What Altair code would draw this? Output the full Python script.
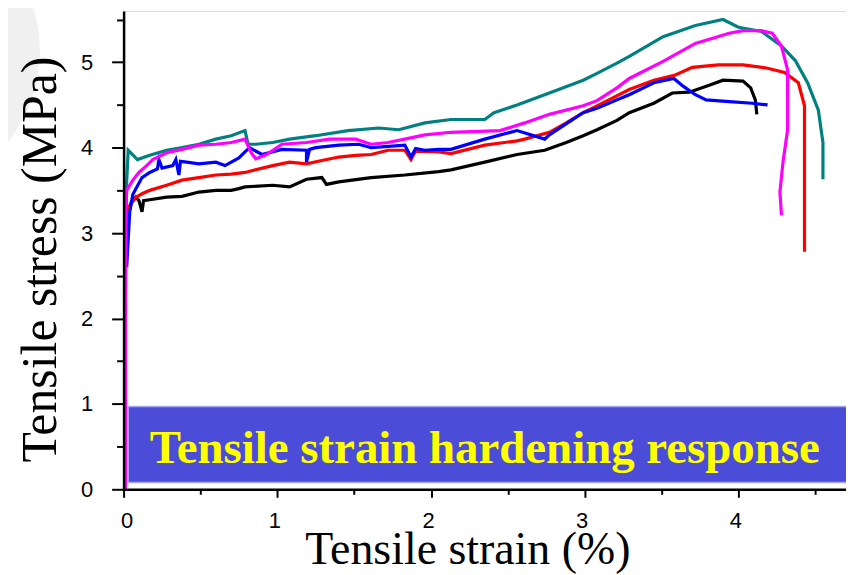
import altair as alt
import pandas as pd

# ---- data (strain %, stress MPa) ----
teal_x = [0.01, 0.02, 0.03, 0.09, 0.17, 0.28, 0.38, 0.49, 0.60, 0.70, 0.79, 0.81, 0.86, 0.97, 1.08, 1.25, 1.46, 1.66, 1.79, 1.96, 2.13, 2.35, 2.41, 2.56, 2.77, 2.99, 3.08, 3.21, 3.29, 3.51, 3.72, 3.90, 4.00, 4.15, 4.28, 4.37, 4.45, 4.52, 4.55, 4.55]
teal_y = [2.50, 3.60, 3.97, 3.86, 3.91, 3.97, 4.00, 4.04, 4.10, 4.14, 4.20, 4.04, 4.04, 4.06, 4.10, 4.14, 4.20, 4.23, 4.21, 4.29, 4.33, 4.33, 4.41, 4.50, 4.64, 4.79, 4.87, 4.99, 5.07, 5.30, 5.43, 5.50, 5.41, 5.36, 5.19, 5.02, 4.76, 4.44, 4.06, 3.63]

black_x = [0.02, 0.03, 0.05, 0.08, 0.10, 0.12, 0.13, 0.17, 0.28, 0.38, 0.49, 0.60, 0.70, 0.75, 0.79, 0.97, 1.08, 1.19, 1.29, 1.32, 1.40, 1.61, 1.83, 2.05, 2.13, 2.35, 2.56, 2.74, 2.88, 2.99, 3.08, 3.21, 3.29, 3.45, 3.57, 3.68, 3.81, 3.90, 4.03, 4.08, 4.11, 4.12]
black_y = [2.80, 3.20, 3.36, 3.42, 3.38, 3.25, 3.38, 3.39, 3.42, 3.43, 3.48, 3.50, 3.50, 3.52, 3.54, 3.56, 3.54, 3.63, 3.65, 3.57, 3.60, 3.65, 3.68, 3.72, 3.74, 3.83, 3.92, 3.97, 4.06, 4.14, 4.21, 4.32, 4.41, 4.52, 4.64, 4.65, 4.73, 4.79, 4.78, 4.70, 4.56, 4.39]

red_x = [0.02, 0.03, 0.08, 0.12, 0.17, 0.28, 0.38, 0.49, 0.60, 0.70, 0.79, 0.97, 1.08, 1.19, 1.29, 1.40, 1.51, 1.61, 1.72, 1.83, 1.87, 1.90, 2.05, 2.13, 2.35, 2.56, 2.61, 2.77, 2.88, 2.99, 3.08, 3.29, 3.45, 3.59, 3.70, 3.87, 4.03, 4.19, 4.30, 4.39, 4.43, 4.43]
red_y = [2.90, 3.30, 3.42, 3.46, 3.50, 3.56, 3.62, 3.65, 3.68, 3.69, 3.71, 3.79, 3.83, 3.81, 3.85, 3.89, 3.91, 3.92, 3.97, 3.97, 3.86, 3.96, 3.95, 3.93, 4.03, 4.08, 4.10, 4.18, 4.29, 4.41, 4.49, 4.68, 4.79, 4.85, 4.94, 4.97, 4.97, 4.93, 4.88, 4.76, 4.49, 2.78]

blue_x = [0.02, 0.04, 0.06, 0.08, 0.12, 0.17, 0.22, 0.23, 0.25, 0.32, 0.34, 0.36, 0.37, 0.41, 0.49, 0.60, 0.66, 0.75, 0.79, 0.82, 0.90, 1.03, 1.19, 1.19, 1.21, 1.25, 1.40, 1.53, 1.61, 1.83, 1.87, 1.90, 1.96, 2.05, 2.13, 2.35, 2.56, 2.74, 2.77, 2.99, 3.08, 3.21, 3.29, 3.45, 3.58, 3.64, 3.72, 3.79, 3.94, 4.09, 4.19]
blue_y = [2.60, 3.25, 3.45, 3.52, 3.65, 3.71, 3.75, 3.86, 3.76, 3.79, 3.86, 3.68, 3.84, 3.83, 3.81, 3.83, 3.79, 3.88, 3.95, 4.00, 3.92, 3.98, 3.97, 3.83, 3.98, 4.00, 4.03, 4.04, 4.00, 4.03, 3.89, 3.99, 3.97, 3.98, 3.98, 4.10, 4.20, 4.10, 4.15, 4.41, 4.46, 4.56, 4.62, 4.76, 4.81, 4.72, 4.62, 4.56, 4.54, 4.52, 4.50]

magenta_x = [0.012, 0.012, 0.015, 0.02, 0.06, 0.10, 0.15, 0.19, 0.28, 0.38, 0.49, 0.60, 0.70, 0.79, 0.83, 0.86, 0.93, 1.03, 1.19, 1.34, 1.51, 1.61, 1.72, 1.83, 1.96, 2.13, 2.45, 2.61, 2.77, 2.99, 3.08, 3.21, 3.29, 3.51, 3.72, 3.94, 4.03, 4.15, 4.22, 4.28, 4.32, 4.32, 4.29, 4.27, 4.28]
magenta_y = [0.00, 2.00, 3.30, 3.50, 3.62, 3.71, 3.79, 3.86, 3.94, 3.98, 4.03, 4.04, 4.06, 4.10, 3.94, 3.87, 3.92, 4.04, 4.06, 4.10, 4.10, 4.04, 4.06, 4.10, 4.15, 4.18, 4.20, 4.29, 4.39, 4.49, 4.55, 4.70, 4.81, 5.01, 5.22, 5.34, 5.37, 5.37, 5.34, 5.19, 4.91, 4.21, 3.83, 3.48, 3.21]

series_names = ["teal", "black", "red", "blue", "magenta"]
series_colors = ["#008080", "#000000", "#FF0000", "#0000FF", "#FF00FF"]

banner_text = "Tensile strain hardening response"
banner_x = [0.03, 4.72]
banner_y = [0.08, 0.97]

# ---- build table ----
rows = []
for name, xs, ys in [("teal", teal_x, teal_y), ("black", black_x, black_y),
                     ("red", red_x, red_y), ("blue", blue_x, blue_y),
                     ("magenta", magenta_x, magenta_y)]:
    for i, (a, b) in enumerate(zip(xs, ys)):
        rows.append({"series": name, "strain": a, "stress": b, "i": i})
df = pd.DataFrame(rows)

xscale = alt.Scale(domain=[0, 4.7], nice=False, zero=False)
yscale = alt.Scale(domain=[0, 5.6], nice=False, zero=False)

major = "datum.value % 1 === 0"
x_axis = alt.Axis(
    values=[0, 0.5, 1, 1.5, 2, 2.5, 3, 3.5, 4, 4.5],
    labelExpr=f"{major} ? format(datum.value, 'd') : ''",
    tickSize={"condition": {"test": major, "value": 8}, "value": 5},
    tickWidth=2, tickColor="black", domainColor="black", domainWidth=2.5,
    labelFont="Liberation Sans", labelFontSize=22, labelColor="black",
    labelPadding=13, labelOffset=-3, grid=False, zindex=1,
    title="Tensile strain (%)", titleFont="Liberation Serif", titleFontSize=46,
    titleFontWeight="normal", titleColor="black",
    titleX=345, titleY=74, titleAlign="center", titleBaseline="alphabetic",
)
y_axis = alt.Axis(
    values=[0, 0.5, 1, 1.5, 2, 2.5, 3, 3.5, 4, 4.5, 5, 5.5],
    labelExpr=f"{major} ? format(datum.value, 'd') : ''",
    tickSize={"condition": {"test": major, "value": 12}, "value": 7},
    tickWidth=2, tickColor="black", domainColor="black", domainWidth=2.5,
    labelFont="Liberation Sans", labelFontSize=22, labelColor="black",
    labelPadding=19, grid=False, zindex=1,
    title="Tensile stress (MPa)", titleFont="Liberation Serif", titleFontSize=50,
    titleFontWeight="normal", titleColor="black", titleAngle=270,
    titleX=-68, titleY=249, titleAlign="center", titleBaseline="alphabetic",
)

ring = alt.Chart(pd.DataFrame({"k": [0]})).mark_arc(
    theta=0, theta2=6.2832, innerRadius=108, outerRadius=145, color="#F0F0F0"
).encode(x=alt.value(-229), y=alt.value(40))

lines = alt.Chart(df).mark_line(strokeWidth=3.2, interpolate="linear").encode(
    x=alt.X("strain:Q", scale=xscale, axis=x_axis),
    y=alt.Y("stress:Q", scale=yscale, axis=y_axis),
    color=alt.Color("series:N", scale=alt.Scale(domain=series_names, range=series_colors), legend=None),
    detail="series:N",
    order=alt.Order("i:Q"),
)

box_df = pd.DataFrame({"x0": [banner_x[0]], "x1": [banner_x[1]], "y0": [banner_y[0]], "y1": [banner_y[1]],
                       "xc": [2.35], "yc": [0.5], "t": [banner_text]})
box = alt.Chart(box_df).mark_rect(color="#4B4DD8", stroke="#A8A8F0", strokeWidth=1.5, clip=False).encode(
    x=alt.X("x0:Q", scale=xscale), x2="x1:Q",
    y=alt.Y("y0:Q", scale=yscale), y2="y1:Q",
)
label = alt.Chart(box_df).mark_text(
    font="Liberation Serif", fontSize=47, fontWeight="bold", color="#FFFF00",
    align="center", baseline="middle", dy=2,
).encode(
    x=alt.X("xc:Q", scale=xscale), y=alt.Y("yc:Q", scale=yscale), text="t:N",
)

chart = alt.layer(ring, lines, box, label).properties(
    width=725, height=480,
    autosize=alt.AutoSizeParams(type="none"),
    padding={"left": 116, "top": 2, "right": 0, "bottom": 85},
).configure_view(stroke=None).configure(background="white")

chart.save("out.html", embed_options={"renderer": "svg", "actions": False})
